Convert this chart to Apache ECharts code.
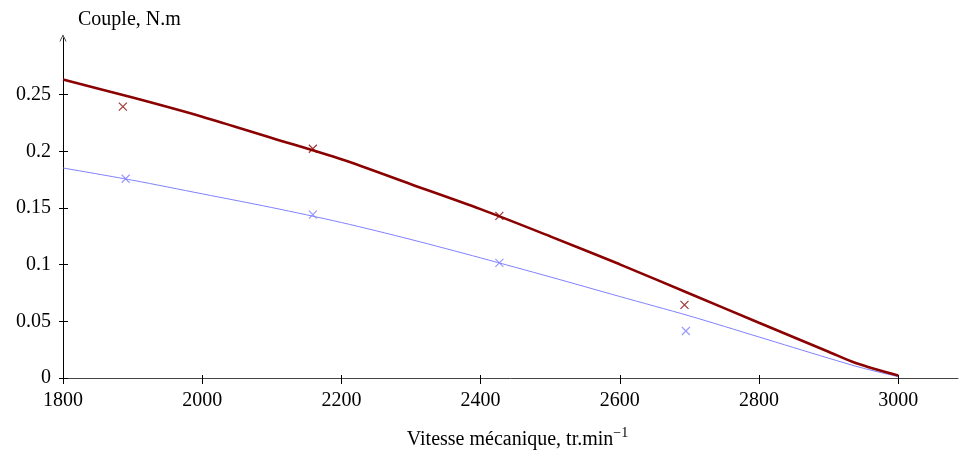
<!DOCTYPE html>
<html>
<head>
<meta charset="utf-8">
<script src="https://cdn.jsdelivr.net/npm/echarts@6/dist/echarts.min.js"></script>
<style>html,body{margin:0;padding:0;background:#fff}#c{width:960px;height:450px}</style>
</head>
<body>
<div id="c"></div>
<script>
// Curve (model) data
const redCurveX = [1800,1900,2000,2100,2200,2300,2400,2500,2600,2700,2800,2900,2940,3000];
const redCurveY = [0.2633,0.2475,0.2306,0.2118,0.1930,0.1710,0.1490,0.1250,0.1003,0.0745,0.0488,0.0232,0.0130,0.0022];
const blueCurveX = [1800,1900,2000,2100,2200,2300,2400,2500,2600,2700,2800,2900,2950,3000];
const blueCurveY = [0.1853,0.1745,0.1625,0.1504,0.1372,0.1222,0.1060,0.0892,0.0719,0.0548,0.0362,0.0175,0.0086,0.0012];
// Measured points
const redPtsX = [1886,2159,2427,2693];
const redPtsY = [0.2394,0.2023,0.1430,0.0645];
const bluePtsX = [1890,2159,2427,2695];
const bluePtsY = [0.1758,0.1441,0.1016,0.0415];
// Ticks
const xTicks = [1800,2000,2200,2400,2600,2800,3000];
const yTicks = [0,0.05,0.1,0.15,0.2,0.25];

const zip = (a,b)=>a.map((v,i)=>[v,b[i]]);
const FONT = '"Liberation Serif", "DejaVu Serif", serif';
const RED = '#8b0000', BLUE = '#8080ff';
const crossPath = 'path://M0,0 L10,10 M10,0 L0,10';
const arrowPath = 'path://M5,0 L10,10 L9,10 L5,2 L1,10 L0,10 Z';

const chart = echarts.init(document.getElementById('c'), null, {renderer:'canvas'});
chart.setOption({
  animation:false,
  backgroundColor:'#fff',
  title:{text:'Couple, N.m', left:73, top:5, textStyle:{fontFamily:FONT, fontSize:20, fontWeight:'normal', color:'#000'}},
  grid:{left:63, right:2, top:38, bottom:72, outerBoundsMode:'none', containLabel:false},
  xAxis:[{
    type:'value', min:1800, max:3086,
    axisLine:{show:true, lineStyle:{color:'#444', width:1}},
    axisTick:{show:true, customValues:xTicks, length:6, lineStyle:{color:'#000'}},
    axisLabel:{customValues:xTicks, margin:13, fontFamily:FONT, fontSize:20, color:'#000', formatter:(v)=>String(v)},
    splitLine:{show:false},
    name:'{a|Vitesse mécanique, tr.min}{s|−1}',
    nameLocation:'middle', nameGap:48,
    nameTextStyle:{fontFamily:FONT, fontSize:20, color:'#000', padding:[0,0,0,14],
      rich:{a:{fontFamily:FONT, fontSize:20, color:'#000', verticalAlign:'bottom'},
            s:{fontFamily:FONT, fontSize:14, color:'#000', padding:[0,0,10,0], verticalAlign:'bottom'}}}
  },{
    type:'value', min:1800, max:3086, position:'bottom',
    axisLine:{show:false},
    axisTick:{show:true, inside:true, customValues:xTicks, length:3, lineStyle:{color:'#000'}},
    axisLabel:{show:false}, splitLine:{show:false}
  }],
  yAxis:[{
    type:'value', min:0, max:0.3,
    axisLine:{show:true, symbol:['none', arrowPath], symbolSize:[7,7], symbolOffset:[0,0], lineStyle:{color:'#000', width:1}},
    axisTick:{show:true, customValues:yTicks, length:4, lineStyle:{color:'#000'}},
    axisLabel:{customValues:yTicks, margin:12, fontFamily:FONT, fontSize:20, color:'#000', formatter:(v)=>String(v)},
    splitLine:{show:false}
  },{
    type:'value', min:0, max:0.3, position:'left',
    axisLine:{show:false},
    axisTick:{show:true, inside:true, customValues:yTicks, length:5, lineStyle:{color:'#000'}},
    axisLabel:{show:false}, splitLine:{show:false}
  }],
  series:[
    {type:'line', data:zip(blueCurveX, blueCurveY), smooth:0.3, showSymbol:false, symbol:'none',
     lineStyle:{color:BLUE, width:1}, z:2},
    {type:'line', data:zip(redCurveX, redCurveY), smooth:0.3, showSymbol:false, symbol:'none',
     lineStyle:{color:RED, width:2.6}, z:3},
    {type:'scatter', data:zip(bluePtsX, bluePtsY), symbol:crossPath, symbolSize:8,
     itemStyle:{color:'none', borderColor:BLUE, borderWidth:1.2}, z:4},
    {type:'scatter', data:zip(redPtsX, redPtsY), symbol:crossPath, symbolSize:8,
     itemStyle:{color:'none', borderColor:RED, borderWidth:1.2}, z:5}
  ]
});
</script>
</body>
</html>
